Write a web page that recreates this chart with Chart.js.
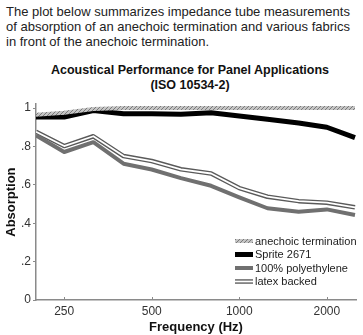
<!DOCTYPE html>
<html lang="en">
<head>
  <meta charset="UTF-8">
  <title>Acoustical Performance for Panel Applications</title>
  <script src="https://cdn.jsdelivr.net/npm/chart.js"></script>
  <style>
    body {
      margin: 0;
      padding: 0;
      width: 363px;
      height: 335px;
      overflow: hidden;
      background: #fff;
      font-family: "Liberation Sans", Arial, sans-serif;
      color: #222;
      position: relative;
    }
    .intro {
      position: absolute;
      left: 6px;
      top: 4px;
      font-size: 13px;
      line-height: 15px;
    }
    .chart-title {
      position: absolute;
      left: 17px;
      width: 346px;
      top: 63px;
      text-align: center;
      font-weight: bold;
      font-size: 12.5px;
      line-height: 15px;
      color: #111;
    }
    .chart-container {
      position: absolute;
      left: 0;
      top: 95px;
      width: 363px;
      height: 240px;
    }
  </style>
</head>
<body>
  <div class="intro">
    The plot below summarizes impedance tube measurements<br>
    of absorption of an anechoic termination and various fabrics<br>
    in front of the anechoic termination.
  </div>
  <div class="chart-title">
    Acoustical Performance for Panel Applications<br>
    (ISO 10534-2)
  </div>
  <div class="chart-container">
    <canvas id="absorptionChart"></canvas>
  </div>

  <script>
    // 1/3-octave band centre frequencies (Hz)
    const freqs = [200, 250, 315, 400, 500, 630, 800, 1000, 1250, 1600, 2000, 2500];
    const xTicks = [250, 500, 1000, 2000];
    const yTicks = [0, 0.2, 0.4, 0.6, 0.8, 1];

    const anechoic = [0.965, 0.975, 0.995, 1, 1, 1, 1, 1, 1, 1, 1, 1];
    const sprite = [0.953, 0.953, 0.987, 0.97, 0.97, 0.968, 0.975, 0.958, 0.942, 0.922, 0.9, 0.846];
    const polyethylene = [0.857, 0.771, 0.822, 0.71, 0.68, 0.635, 0.595, 0.535, 0.478, 0.46, 0.472, 0.443];
    const latex = [0.876, 0.802, 0.853, 0.75, 0.724, 0.681, 0.659, 0.583, 0.538, 0.515, 0.507, 0.483];

    const labels = ['anechoic termination', 'Sprite 2671', '100% polyethylene', 'latex backed'];

    const axisGrey = '#8a8a8a';
    const fontFamily = '"Liberation Sans", Arial, sans-serif';

    // hatched grey stroke for the anechoic line
    function makeHatch() {
      const c = document.createElement('canvas');
      c.width = 4;
      c.height = 4;
      const g = c.getContext('2d');
      g.fillStyle = '#c4c4c4';
      g.fillRect(0, 0, 4, 4);
      g.fillStyle = '#7a7a7a';
      for (let i = 0; i < 4; i++) {
        g.fillRect(i, 3 - i, 1, 1);
      }
      return g.createPattern(c, 'repeat');
    }
    const hatch = makeHatch();

    function toPoints(values) {
      return freqs.map((f, i) => ({ x: f, y: values[i] }));
    }

    function lineSet(label, values, color, width, order) {
      return {
        label,
        data: toPoints(values),
        borderColor: color,
        borderWidth: width,
        pointRadius: 0,
        tension: 0,
        fill: false,
        borderJoinStyle: 'round',
        order
      };
    }

    // legend symbols, one entry per series
    const legendStyles = [
      [{ color: hatch, width: 4 }],
      [{ color: '#000', width: 5 }],
      [{ color: '#707070', width: 4 }],
      [{ color: '#5a5a5a', width: 4.5 }, { color: '#fff', width: 1.8 }]
    ];

    const insideLegend = {
      id: 'insideLegend',
      afterDatasetsDraw(chart) {
        const { ctx, chartArea } = chart;
        const x0 = chartArea.right - 121;
        const rows = [59, 45.5, 32, 18.5];
        ctx.save();
        ctx.font = '11px ' + fontFamily;
        ctx.textBaseline = 'middle';
        ctx.fillStyle = '#222';
        labels.forEach((text, i) => {
          const y = chartArea.bottom - rows[i];
          legendStyles[i].forEach(s => {
            ctx.beginPath();
            ctx.strokeStyle = s.color;
            ctx.lineWidth = s.width;
            ctx.moveTo(x0, y);
            ctx.lineTo(x0 + 18, y);
            ctx.stroke();
          });
          ctx.fillText(text, x0 + 20, y + 0.5);
        });
        ctx.restore();
      }
    };

    // short tick marks pointing up into the plot from the frequency axis
    const innerTicks = {
      id: 'innerTicks',
      afterDraw(chart) {
        const { ctx } = chart;
        const xs = chart.scales.x;
        const yBottom = chart.chartArea.bottom;
        ctx.save();
        ctx.strokeStyle = axisGrey;
        ctx.lineWidth = 1;
        xTicks.forEach(v => {
          const px = Math.round(xs.getPixelForValue(v)) + 0.5;
          ctx.beginPath();
          ctx.moveTo(px, yBottom);
          ctx.lineTo(px, yBottom - 3);
          ctx.stroke();
        });
        ctx.restore();
      }
    };

    const ctx = document.getElementById('absorptionChart').getContext('2d');
    new Chart(ctx, {
      type: 'line',
      data: {
        datasets: [
          lineSet(labels[0], anechoic, hatch, 4, 0),
          lineSet(labels[1], sprite, '#000', 5, 1),
          lineSet(labels[2], polyethylene, '#707070', 4, 2),
          lineSet(labels[3], latex, '#fff', 1.8, 3),
          lineSet(labels[3], latex, '#5a5a5a', 4.5, 4)
        ]
      },
      options: {
        responsive: true,
        maintainAspectRatio: false,
        animation: false,
        layout: { padding: { top: 8, right: 7, left: 0, bottom: 0 } },
        plugins: {
          legend: { display: false },
          tooltip: { enabled: false }
        },
        scales: {
          x: {
            type: 'logarithmic',
            min: 200,
            max: 2520,
            afterBuildTicks: scale => { scale.ticks = xTicks.map(v => ({ value: v })); },
            afterFit: scale => { scale.height = 35; },
            grid: { display: false, drawTicks: false },
            border: { color: axisGrey, width: 1.5 },
            ticks: {
              color: '#333',
              font: { size: 12, family: fontFamily },
              padding: 4,
              maxRotation: 0,
              autoSkip: false,
              callback: v => String(v)
            },
            title: {
              display: true,
              text: 'Frequency (Hz)',
              color: '#111',
              font: { size: 13, weight: 'bold', family: fontFamily },
              padding: { top: 0, bottom: 0 }
            }
          },
          y: {
            min: 0,
            max: 1.02,
            afterBuildTicks: scale => { scale.ticks = yTicks.map(v => ({ value: v })); },
            afterFit: scale => { scale.width = 36; },
            grid: { drawOnChartArea: false, drawTicks: true, tickLength: 3, color: axisGrey },
            border: { color: axisGrey, width: 1.5 },
            ticks: {
              color: '#333',
              font: { size: 12, family: fontFamily },
              padding: 2,
              callback: v => (v === 0 || v === 1) ? String(v) : String(v).replace('0.', '.')
            },
            title: {
              display: true,
              text: 'Absorption',
              color: '#111',
              font: { size: 13, weight: 'bold', family: fontFamily },
              padding: { top: 4, bottom: 0 }
            }
          }
        }
      },
      plugins: [insideLegend, innerTicks]
    });
  </script>
</body>
</html>
